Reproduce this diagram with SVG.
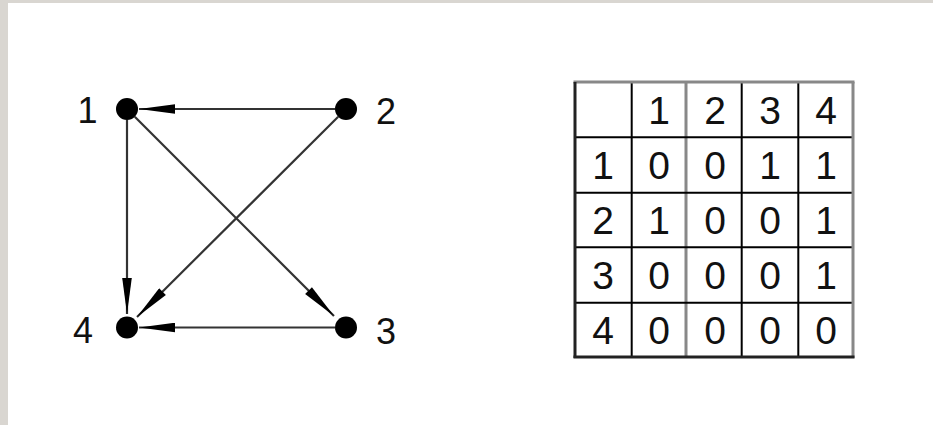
<svg xmlns="http://www.w3.org/2000/svg" width="933" height="425" viewBox="0 0 933 425">
<defs>
<style>
.lbl{font-family:"Liberation Sans",Arial,sans-serif;font-size:36px;fill:#111;text-anchor:middle}
.cell{font-family:"Liberation Sans",Arial,sans-serif;font-size:39px;fill:#111;text-anchor:middle}
.edge{stroke:#333;stroke-width:2.2;fill:none;marker-end:url(#ah)}
.dot{fill:#000}
.gi{stroke:#000;stroke-width:2}
.gg{stroke:#888;stroke-width:3}
.gb{stroke:#222;stroke-width:3}
</style>
<marker id="ah" viewBox="-37 -5 38 10" markerWidth="38" markerHeight="10" refX="0" refY="0" markerUnits="userSpaceOnUse" orient="auto">
<path d="M0,0 L-36,-4.8 L-36,4.8 Z" fill="#000"/>
</marker>
</defs>
<rect x="0" y="0" width="933" height="425" fill="#d9d6d1"/>
<rect x="8" y="3" width="925" height="422" fill="#fff"/>
<g id="connectors">
<line class="edge" x1="335" y1="109" x2="139" y2="109"/>
<line class="edge" x1="127" y1="120" x2="127" y2="314"/>
<line class="edge" x1="335" y1="327.5" x2="139" y2="327.5"/>
<line class="edge" x1="134.8" y1="116.8" x2="334" y2="316"/>
<line class="edge" x1="338.2" y1="116.8" x2="137" y2="317"/>
</g>
<g id="node1"><circle class="dot" cx="127" cy="109" r="11"/><text class="lbl" x="87.5" y="123">1</text></g>
<g id="node2"><circle class="dot" cx="346" cy="109" r="11"/><text class="lbl" x="386" y="124">2</text></g>
<g id="node3"><circle class="dot" cx="346" cy="327.5" r="11"/><text class="lbl" x="386" y="344">3</text></g>
<g id="node4"><circle class="dot" cx="127" cy="327.5" r="11"/><text class="lbl" x="83" y="343">4</text></g>
<g id="matrix">
<line class="gi" x1="631.7" y1="82.5" x2="631.7" y2="356.5"/>
<line class="gg" x1="686" y1="82.5" x2="686" y2="356.5"/>
<line class="gi" x1="741.7" y1="82.5" x2="741.7" y2="356.5"/>
<line class="gi" x1="798.3" y1="82.5" x2="798.3" y2="356.5"/>
<line class="gi" x1="575" y1="137.3" x2="853" y2="137.3"/>
<line class="gi" x1="575" y1="192.7" x2="853" y2="192.7"/>
<line class="gi" x1="575" y1="247.3" x2="853" y2="247.3"/>
<line class="gi" x1="575" y1="302.7" x2="853" y2="302.7"/>
<line class="gg" x1="573.5" y1="82" x2="854.5" y2="82"/>
<line class="gg" x1="853" y1="82" x2="853" y2="358"/>
<line class="gb" x1="575" y1="82" x2="575" y2="358"/>
<line class="gb" x1="573.5" y1="357" x2="854.5" y2="357"/>
<text class="cell" x="659" y="124">1</text><text class="cell" x="715" y="124">2</text><text class="cell" x="770" y="124">3</text><text class="cell" x="826" y="124">4</text>
<text class="cell" x="603" y="179">1</text><text class="cell" x="659" y="179">0</text><text class="cell" x="715" y="179">0</text><text class="cell" x="770" y="179">1</text><text class="cell" x="826" y="179">1</text>
<text class="cell" x="603" y="234">2</text><text class="cell" x="659" y="234">1</text><text class="cell" x="715" y="234">0</text><text class="cell" x="770" y="234">0</text><text class="cell" x="826" y="234">1</text>
<text class="cell" x="603" y="289">3</text><text class="cell" x="659" y="289">0</text><text class="cell" x="715" y="289">0</text><text class="cell" x="770" y="289">0</text><text class="cell" x="826" y="289">1</text>
<text class="cell" x="603" y="344">4</text><text class="cell" x="659" y="344">0</text><text class="cell" x="715" y="344">0</text><text class="cell" x="770" y="344">0</text><text class="cell" x="826" y="344">0</text>
</g>
</svg>
